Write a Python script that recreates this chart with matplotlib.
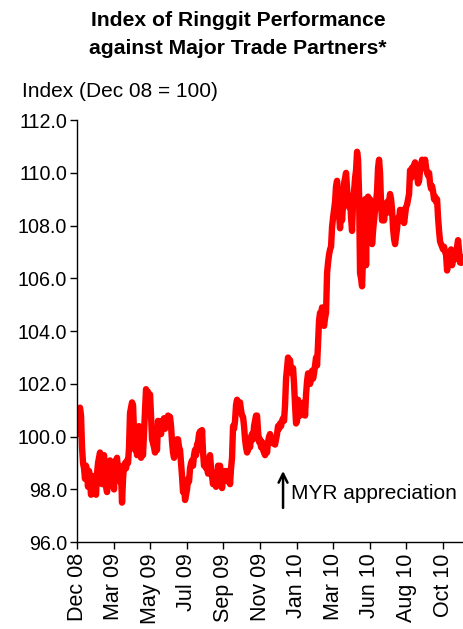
import numpy as np
import matplotlib
matplotlib.use("Agg")
import matplotlib.pyplot as plt

plt.rcParams['font.family'] = ['Liberation Sans', 'DejaVu Sans']

# Ringgit index, daily-ish samples from Dec 08 through Oct 10
ringgit_index = [
    100.1, 100.6, 101.0, 101.1, 100.8, 99.6, 99.0, 98.8, 98.4, 98.9,
    98.6, 98.1, 98.7, 98.3, 97.8, 98.2, 97.9, 98.5, 98.0, 97.8,
    98.6, 99.0, 99.2, 99.4, 99.0, 98.2, 98.8, 99.3, 98.5, 98.1,
    97.9, 98.3, 98.9, 99.1, 98.7, 98.2, 98.4, 98.0, 98.8, 99.1,
    99.2, 98.6, 98.9, 98.3, 98.6, 97.5, 98.4, 98.9, 99.0, 98.8,
    99.1, 99.0, 99.6, 100.9, 101.1, 101.3, 101.2, 100.2, 99.5, 99.8,
    99.3, 99.6, 100.4, 99.9, 99.2, 99.4, 99.3, 100.2, 101.0, 101.8,
    101.6, 101.7, 101.4, 101.6, 100.8, 99.9, 99.75, 99.6, 99.4, 99.7,
    99.5, 100.6, 100.3, 100.5, 100.1, 100.6, 100.4, 100.7, 100.3, 100.5,
    100.6, 100.8, 100.7, 100.75, 100.4, 99.8, 99.4, 99.2, 99.6, 99.7,
    99.9, 99.9, 99.6, 99.5, 99.0, 98.5, 97.9, 98.2, 97.6, 97.8,
    98.0, 98.4, 98.3, 98.8, 99.0, 99.1, 98.9, 99.3, 99.5, 99.3,
    99.7, 99.8, 100.1, 100.2, 99.5, 100.25, 99.4, 98.9, 99.1, 98.8,
    98.9, 98.6, 99.1, 99.3, 98.8, 98.5, 98.2, 98.6, 98.4, 98.1,
    98.4, 98.9, 98.7, 98.9, 98.5, 98.05, 98.5, 98.4, 98.7, 98.5,
    98.7, 98.3, 98.6, 98.2, 98.8, 99.2, 100.4, 100.3, 100.6, 101.2,
    101.4, 101.0, 101.2, 101.3, 101.0, 100.8, 100.75, 100.4, 99.9, 99.6,
    99.4, 99.5, 99.9, 99.6, 100.0, 100.1, 99.9, 100.4, 100.6, 100.8,
    100.8, 100.2, 99.8, 99.9, 99.6, 99.8, 99.5, 99.4, 99.3, 99.6,
    99.4, 99.8, 100.0, 100.1, 99.9, 99.8, 99.75, 99.8, 99.7, 99.9,
    100.1, 100.4, 100.3, 100.5, 100.4, 100.6, 100.7, 100.6, 101.2, 102.2,
    102.6, 103.0, 102.7, 102.9, 102.5, 102.4, 102.6, 102.0, 101.2, 100.5,
    100.6, 101.4, 101.0, 100.8, 101.2, 101.0, 100.9, 101.3, 100.8, 101.6,
    102.1, 102.4, 102.3, 102.0, 102.2, 102.5, 102.2, 102.4, 102.7, 103.0,
    102.7, 103.6, 104.4, 104.7, 104.6, 104.9, 104.5, 104.2, 104.5, 104.7,
    106.2, 106.6, 106.9, 107.1, 107.2, 107.95, 108.3, 108.6, 108.9, 109.5,
    109.7, 109.2, 108.4, 107.9, 108.6, 108.2, 108.8, 109.6, 109.8, 110.0,
    109.4, 108.9, 108.7, 109.1, 108.3, 107.8, 108.9, 109.3, 109.8, 110.1,
    110.8, 110.5, 109.2, 106.2, 106.0, 105.7, 106.9, 108.5, 109.0, 106.5,
    108.9, 109.1, 108.6, 109.0, 108.5, 107.3, 107.8, 108.2, 108.6, 108.9,
    109.3, 110.2, 110.5, 110.0, 108.8, 108.2, 108.5, 108.2, 108.6, 108.7,
    108.9, 108.5, 108.9, 109.2, 109.0, 108.6, 107.9, 107.5, 107.3, 107.6,
    107.9, 108.3, 108.2, 108.6, 108.2, 108.4, 108.6, 108.1, 108.4, 108.7,
    108.8, 109.0, 109.2, 110.1, 109.8, 110.2, 110.0, 110.3, 110.4, 110.1,
    109.9, 109.6, 109.7, 110.1, 110.3, 110.5, 110.4, 110.2, 110.5, 110.2,
    110.0, 109.9, 110.0, 109.6, 109.4, 109.5, 109.3, 109.0, 109.1, 108.9,
    109.0, 108.3, 107.8, 107.4, 107.3, 107.2, 107.1, 107.2, 107.0, 106.9,
    106.3, 106.6, 106.9, 106.7, 107.1, 106.5, 106.8, 106.7, 107.0, 106.8,
    107.2, 107.45, 107.0, 106.6, 106.8, 106.6,
]

month_labels = ["Dec 08", "Mar 09", "May 09", "Jul 09", "Sep 09", "Nov 09",
                "Jan 10", "Mar 10", "Jun 10", "Aug 10", "Oct 10"]
label_step = 36.6          # samples between category labels
y_ticks = [96, 98, 100, 102, 104, 106, 108, 110, 112]

fig = plt.figure(figsize=(4.64, 6.29), dpi=100)
ax = fig.add_axes([0.166, 0.138, 0.832, 0.671])

x = np.arange(len(ringgit_index))
ax.plot(x, ringgit_index, color="#FF0000", linewidth=4.6,
        solid_joinstyle="round", solid_capstyle="round")

ax.set_xlim(0, 386)
ax.set_ylim(96, 112)
ax.set_yticks(y_ticks)
ax.set_yticklabels([f"{v:.1f}" for v in y_ticks])
ax.set_xticks(np.arange(len(month_labels)) * label_step)
ax.set_xticklabels(month_labels, rotation=90)

for side in ("top", "right"):
    ax.spines[side].set_visible(False)
for side in ("left", "bottom"):
    ax.spines[side].set_linewidth(1.0)
    ax.spines[side].set_color("black")
ax.tick_params(axis="both", direction="out", length=5, width=1.0,
               colors="black")
ax.tick_params(axis="y", labelsize=14.2, pad=2)
ax.tick_params(axis="x", labelsize=15.5, pad=3)

fig.text(0.513, 0.982, "Index of Ringgit Performance\nagainst Major Trade Partners*",
         ha="center", va="top", fontsize=15.2, fontweight="bold", linespacing=1.55)
fig.text(0.047, 0.855, "Index (Dec 08 = 100)", ha="left", va="center", fontsize=15)

ax.annotate("", xy=(206, 98.7), xytext=(206, 97.3),
            arrowprops=dict(arrowstyle="->", color="black", lw=1.8,
                            mutation_scale=16, shrinkA=0, shrinkB=0))
ax.text(214, 97.85, "MYR appreciation", ha="left", va="center", fontsize=15)

fig.savefig("out.png", dpi=100, facecolor="white")
